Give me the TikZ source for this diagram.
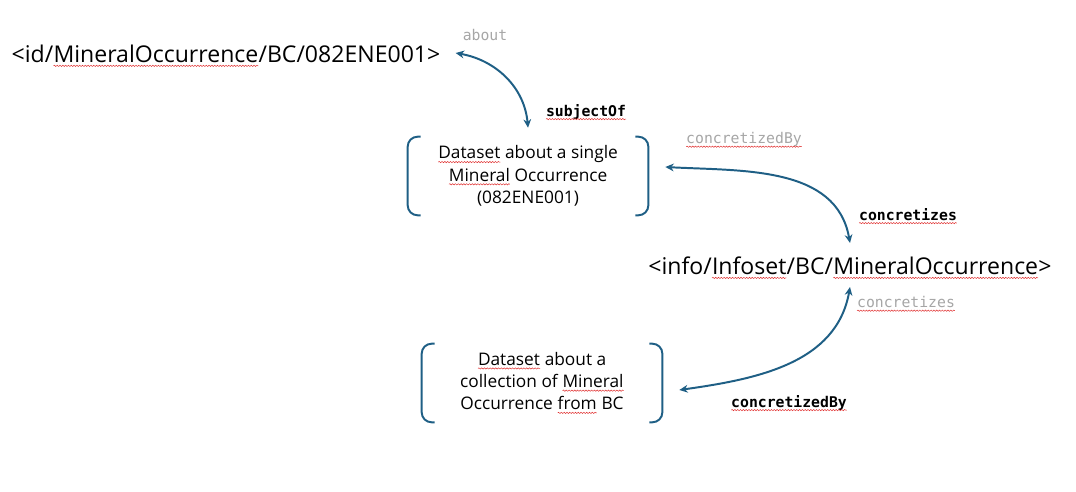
\documentclass[tikz,border=0pt]{standalone}
\usepackage{fontspec}
\setmainfont{Open Sans}
\setmonofont{DejaVu Sans Mono}
\usepackage{xcolor}
\usepackage{tikz}
\usetikzlibrary{arrows.meta, decorations.pathmorphing}
\definecolor{bleu}{HTML}{1F5F85}
\definecolor{gris}{HTML}{A6A6A6}
\definecolor{faute}{HTML}{E03030}
\newcommand\faute[1]{\tikz[baseline=(w.base)]{\node[inner sep=0pt, outer sep=0pt, minimum width=0pt, minimum height=0pt, align=left] (w) {#1};
    \draw[faute, line width=0.35pt, decorate, decoration={snake, amplitude=0.45pt, segment length=2pt}] ([yshift=-2.2pt]w.base west) -- ([yshift=-2.2pt]w.base east);}}
\tikzset{
  uri/.style={inner sep=0pt, font=\fontsize{16.4}{20}\selectfont},
  jeu/.style={inner sep=0pt, minimum width=6cm, minimum height=1.95cm, align=center, font=\fontsize{12.3}{15.8}\selectfont},
  lien/.style={inner sep=0pt, font=\fontsize{10.5}{12}\selectfont\ttfamily},
  crochet/.style={bleu, line width=1.4pt, rounded corners=7pt},
  fleche/.style={bleu, line width=1.4pt, {Stealth[length=6pt,width=5.5pt]}-{Stealth[length=6pt,width=5.5pt]}}
}

\begin{document}
\begin{tikzpicture}[x=0.025cm, y=0.025cm]
    \useasboundingbox (0,0) rectangle (1076,492);

    % Ressources
    \node[uri] (occ) at (226,436) {<id/\faute{MineralOccurrence}/BC/082ENE001>};
    \node[uri] (info) at (850,224) {<info/\faute{Infoset}/BC/\faute{MineralOccurrence}>};

    % Jeux de données
    \node[jeu] (ds1) at (528,316) {\faute{Dataset} about a single\\ \faute{Mineral} Occurrence\\ (082ENE001)};
    \node[jeu] (ds2) at (542,109) {\faute{Dataset} about a\\ collection of \faute{Mineral}\\ Occurrence \faute{from} BC};

    % Crochets
    \foreach \n in {ds1,ds2} {
        \draw[crochet] ([shift={(13,0)}]\n.north west) -- (\n.north west) -- (\n.south west) -- ([shift={(13,0)}]\n.south west);
        \draw[crochet] ([shift={(-13,0)}]\n.north east) -- (\n.north east) -- (\n.south east) -- ([shift={(-13,0)}]\n.south east);
    }

    % Liens
    \draw[fleche] ([shift={(15,3)}]occ.east) to[out=-10, in=95] ([shift={(0,9)}]ds1.north);
    \draw[fleche] ([shift={(17,9)}]ds1.east) to[out=-3, in=100] ([shift={(0,25)}]info.center);
    \draw[fleche] ([shift={(0,-19)}]info.center) to[out=-100, in=8] ([shift={(17,-7)}]ds2.east);

    % Étiquettes
    \node[lien, gris] (l-about) at (485,457) {about};
    \node[lien] (l-subj) at (586,380) {\textbf{\faute{subjectOf}}};
    \node[lien, gris] (l-concby1) at (744,352) {\faute{concretizedBy}};
    \node[lien] (l-conc1) at (908,276) {\textbf{\faute{concretizes}}};
    \node[lien, gris] (l-conc2) at (906,188) {\faute{concretizes}};
    \node[lien] (l-concby2) at (789,89) {\textbf{\faute{concretizedBy}}};
\end{tikzpicture}
\end{document}
